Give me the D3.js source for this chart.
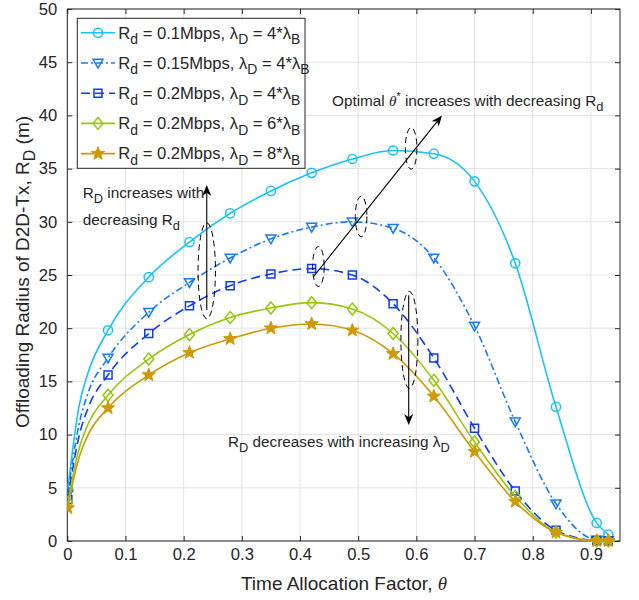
<!DOCTYPE html>
<html>
<head>
<meta charset="utf-8">
<script src="https://cdn.jsdelivr.net/npm/d3@7"></script>
<style>
  html, body { margin: 0; padding: 0; background: #fff; }
  svg { display: block; }
  text { font-family: "Liberation Sans", Arial, Helvetica, sans-serif; fill: #262626; }
</style>
</head>
<body>
<svg id="chart" width="639" height="600"></svg>
<script>
// ---------------- data ----------------
const markerX = [0.001, 0.07, 0.14, 0.21, 0.28, 0.35, 0.42, 0.49, 0.56, 0.63, 0.70, 0.77, 0.84, 0.91, 0.93];
const headX   = [0.01, 0.02, 0.035];

const rd01    = [4.9, 19.8, 24.8, 28.1, 30.8, 32.9, 34.6, 35.9, 36.7, 36.4, 33.8, 26.1, 12.6, 1.7, 0.6];
const rd015   = [4.4, 17.2, 21.5, 24.3, 26.6, 28.4, 29.5, 30.0, 29.4, 26.6, 20.2, 11.2, 3.5, 0.1, 0.05];
const rd02l4  = [3.9, 15.6, 19.5, 22.1, 24.0, 25.1, 25.6, 25.0, 22.3, 17.2, 10.6, 4.7, 1.0, 0.05, 0.02];
const rd02l6  = [3.6, 13.7, 17.1, 19.4, 21.0, 21.9, 22.4, 21.8, 19.5, 15.1, 9.3, 4.2, 0.85, 0.02, 0.01];
const rd02l8  = [3.1, 12.5, 15.6, 17.7, 19.0, 20.0, 20.4, 19.8, 17.6, 13.6, 8.4, 3.7, 0.8, 0.02, 0.01];

const rd01Head   = [8.9, 12.6, 15.7];
const rd015Head  = [7.8, 10.9, 13.8];
const rd02l4Head = [7.0, 9.8, 12.4];
const rd02l6Head = [6.2, 8.6, 10.9];
const rd02l8Head = [5.6, 7.8, 9.9];

const legendRd     = ["0.1", "0.15", "0.2", "0.2", "0.2"];
const legendLambda = ["4", "4", "4", "6", "8"];

const xTicks = [0, 0.1, 0.2, 0.3, 0.4, 0.5, 0.6, 0.7, 0.8, 0.9];
const xTickLabels = ["0", "0.1", "0.2", "0.3", "0.4", "0.5", "0.6", "0.7", "0.8", "0.9"];
const yTicks = [0, 5, 10, 15, 20, 25, 30, 35, 40, 45, 50];

// ---------------- setup ----------------
const svg = d3.select("#chart");
const L = 67.3, R = 620, T = 9, B = 541;
const x = d3.scaleLinear().domain([0, 0.95]).range([L, R]);
const y = d3.scaleLinear().domain([0, 50]).range([B, T]);

const styles = [
  { color: "#19c3f2", dash: null,      marker: "circle" },
  { color: "#1a7af5", dash: "7,3,2,3", marker: "tri" },
  { color: "#0d3df5", dash: "9,5",     marker: "square" },
  { color: "#96c80a", dash: null,      marker: "diamond" },
  { color: "#cf9a06", dash: null,      marker: "star" }
];
const seriesVals  = [rd01, rd015, rd02l4, rd02l6, rd02l8];
const seriesHeads = [rd01Head, rd015Head, rd02l4Head, rd02l6Head, rd02l8Head];

// grid
const grid = svg.append("g");
grid.selectAll("line.gx").data(xTicks).join("line")
  .attr("x1", d => x(d)).attr("x2", d => x(d)).attr("y1", T).attr("y2", B)
  .attr("stroke", "#e3e3e3").attr("stroke-width", 1);
grid.selectAll("line.gy").data(yTicks).join("line")
  .attr("y1", d => y(d)).attr("y2", d => y(d)).attr("x1", L).attr("x2", R)
  .attr("stroke", "#e3e3e3").attr("stroke-width", 1);

// axes
const axisColor = "#262626";
function styleAxis(g) {
  g.select(".domain").remove();
  g.selectAll(".tick line").attr("stroke", axisColor);
  g.selectAll(".tick text").attr("fill", axisColor).style("font-size", "16.6px")
    .style("font-family", '"Liberation Sans", Arial, sans-serif');
}
svg.append("g").attr("transform", `translate(0,${B})`)
  .call(d3.axisBottom(x).tickValues(xTicks).tickFormat((d, i) => xTickLabels[i]).tickSizeInner(-5).tickSizeOuter(0).tickPadding(7))
  .call(styleAxis);
svg.append("g").attr("transform", `translate(0,${T})`)
  .call(d3.axisTop(x).tickValues(xTicks).tickFormat("").tickSizeInner(-5).tickSizeOuter(0))
  .call(styleAxis);
svg.append("g").attr("transform", `translate(${L},0)`)
  .call(d3.axisLeft(y).tickValues(yTicks).tickSizeInner(-5).tickSizeOuter(0).tickPadding(10))
  .call(styleAxis);
svg.append("g").attr("transform", `translate(${R},0)`)
  .call(d3.axisRight(y).tickValues(yTicks).tickFormat("").tickSizeInner(-5).tickSizeOuter(0))
  .call(styleAxis);
svg.append("rect").attr("x", L).attr("y", T).attr("width", R - L).attr("height", B - T)
  .attr("fill", "none").attr("stroke", axisColor).attr("stroke-width", 1);

// clip
svg.append("clipPath").attr("id", "plotclip").append("rect")
  .attr("x", L).attr("y", T - 8).attr("width", R - L + 8).attr("height", B - T + 16);

// markers
function markerPath(type) {
  if (type === "tri") return "M-5,-3.8L5,-3.8L0,5Z";
  if (type === "square") return "M-4,-4h8v8h-8Z";
  if (type === "diamond") return "M0,-6L5,0L0,6L-5,0Z";
  if (type === "star") {
    let p = "";
    for (let k = 0; k < 10; k++) {
      const r = k % 2 === 0 ? 7 : 2.9;
      const a = -Math.PI / 2 + k * Math.PI / 5;
      p += (k === 0 ? "M" : "L") + (r * Math.cos(a)).toFixed(2) + "," + (r * Math.sin(a)).toFixed(2);
    }
    return p + "Z";
  }
  return null;
}
function drawMarker(g, type, color, cx, cy) {
  if (type === "circle") {
    g.append("circle").attr("cx", cx).attr("cy", cy).attr("r", 4.6)
      .attr("fill", "none").attr("stroke", color).attr("stroke-width", 1.5);
  } else {
    g.append("path").attr("d", markerPath(type)).attr("transform", `translate(${cx},${cy})`)
      .attr("fill", type === "star" ? color : "none").attr("stroke", color).attr("stroke-width", type === "star" ? 1 : 1.5)
      .attr("stroke-linejoin", "miter");
  }
}

const line = d3.line().x(d => x(d[0])).y(d => y(d[1])).curve(d3.curveMonotoneX);
const plot = svg.append("g").attr("clip-path", "url(#plotclip)");
seriesVals.forEach((vals, si) => {
  const st = styles[si];
  const pts = markerX.map((xv, i) => [xv, vals[i]]);
  const head = headX.map((xv, i) => [xv, seriesHeads[si][i]]);
  const all = [pts[0], ...head, ...pts.slice(1)];
  plot.append("path").attr("d", line(all)).attr("fill", "none")
    .attr("stroke", st.color).attr("stroke-width", 1.6)
    .attr("stroke-dasharray", st.dash);
  const mg = plot.append("g");
  pts.forEach(p => drawMarker(mg, st.marker, st.color, x(p[0]), y(p[1])));
});

// rich text helper
function rich(g, px, py, parts, size, anchor) {
  const t = g.append("text").attr("x", px).attr("y", py).style("font-size", size + "px")
    .attr("text-anchor", anchor || "start");
  let shift = 0;
  parts.forEach(p => {
    const [str, kind] = p;
    const ts = t.append("tspan").text(str);
    let target = 0, fs = size;
    if (kind === "sub") { target = size * 0.34; fs = size * 0.84; }
    if (kind === "sup") { target = -size * 0.4; fs = size * 0.7; }
    ts.attr("dy", target - shift).style("font-size", fs + "px");
    shift = target;
    if (kind === "theta") ts.style("font-family", '"Liberation Serif", "Times New Roman", serif').style("font-style", "italic");
  });
  return t;
}

// legend
const lg = svg.append("g");
lg.append("rect").attr("x", 77.3).attr("y", 18.3).attr("width", 227.7).attr("height", 150)
  .attr("fill", "#fff").attr("stroke", axisColor).attr("stroke-width", 1);
styles.forEach((st, i) => {
  const base = 38.5 + i * 30.2;
  const cy = base - 5.7;
  lg.append("line").attr("x1", 81).attr("x2", 115).attr("y1", cy).attr("y2", cy)
    .attr("stroke", st.color).attr("stroke-width", 1.6).attr("stroke-dasharray", st.dash);
  drawMarker(lg, st.marker, st.color, 98, cy);
  rich(lg, 118.3, base, [["R", "n"], ["d", "sub"], [" = " + legendRd[i] + "Mbps, λ", "n"], ["D", "sub"],
    [" = " + legendLambda[i] + "*λ", "n"], ["B", "sub"]], 16.6);
});

// axis labels
rich(svg, 344, 590, [["Time Allocation Factor, ", "n"], ["θ", "theta"]], 19, "middle");
const yl = svg.append("g").attr("transform", "translate(29,272) rotate(-90)");
rich(yl, 0, 0, [["Offloading Radius of D2D-Tx, R", "n"], ["D", "sub"], [" (m)", "n"]], 19, "middle");

// annotations
const ann = svg.append("g");
function arrow(x1, y1, x2, y2) {
  const dx = x2 - x1, dy = y2 - y1, len = Math.hypot(dx, dy);
  const ux = dx / len, uy = dy / len, nx = -uy, ny = ux;
  const hl = 11, hw = 4.5;
  const bx = x2 - ux * hl, by = y2 - uy * hl;
  ann.append("line").attr("x1", x1).attr("y1", y1).attr("x2", x2 - ux * 6).attr("y2", y2 - uy * 6)
    .attr("stroke", "#000").attr("stroke-width", 1.1);
  const nxp = x2 - ux * hl * 0.7, nyp = y2 - uy * hl * 0.7;
  ann.append("path").attr("d", `M${x2},${y2}L${bx + nx * hw},${by + ny * hw}L${nxp},${nyp}L${bx - nx * hw},${by - ny * hw}Z`)
    .attr("fill", "#000");
}
function ell(cx, cy, rx, ry) {
  ann.append("ellipse").attr("cx", cx).attr("cy", cy).attr("rx", rx).attr("ry", ry)
    .attr("fill", "none").attr("stroke", "#000").attr("stroke-width", 1).attr("stroke-dasharray", "6,4");
}
// optimal theta
ell(x(0.4316), y(25.8), 5.8, 20);
ell(x(0.505), y(30.5), 5.8, 20.3);
ell(x(0.591), y(36.9), 5.8, 20.8);
arrow(x(0.4225), y(24.8), x(0.644), y(40.0));
rich(ann, x(0.455), y(40.9), [["Optimal ", "n"], ["θ", "theta"], ["*", "sup"], [" increases with decreasing R", "n"], ["d", "sub"]], 15.3);
// R_D increases
ell(x(0.2397), y(25.4), 8.7, 48);
arrow(x(0.2397), y(21.7), x(0.2397), y(33.46));
rich(ann, 82.7, 197.5, [["R", "n"], ["D", "sub"], [" increases with", "n"]], 15.3);
rich(ann, 82.7, 225, [["decreasing R", "n"], ["d", "sub"]], 15.3);
// R_D decreases
ell(x(0.588), y(18.9), 8.5, 48.5);
arrow(x(0.5868), y(23.1), x(0.5868), y(10.9));
rich(ann, 228, 447, [["R", "n"], ["D", "sub"], [" decreases with increasing λ", "n"], ["D", "sub"]], 15.3);
</script>
</body>
</html>
